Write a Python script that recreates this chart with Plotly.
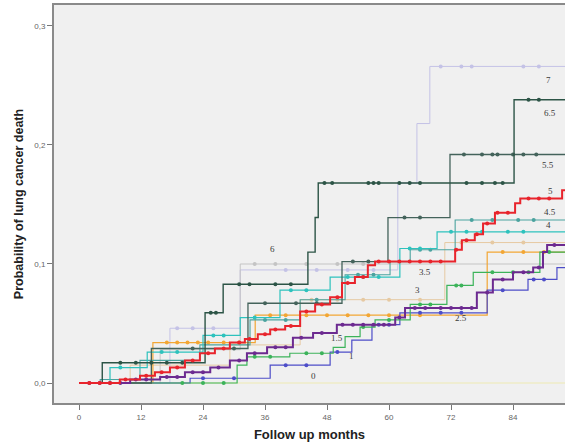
import numpy as np
import plotly.graph_objects as go

END = 95.0

# ---- step curves: event months and cumulative probability after each step ----
s0_t = [0]
s0_p = [0.0]

tan_t = [0, 9.9, 29.2, 42.8, 70.8]
tan_p = [0, 0.015, 0.032, 0.070, 0.118]

lav_t = [0, 17.6, 31.2, 61.7, 65.4, 67.9]
lav_p = [0, 0.046, 0.095, 0.168, 0.218, 0.266]

gray_t = [0, 15.7, 31.2]
gray_p = [0, 0.028, 0.100]

orange_t = [0, 14.3, 34.1, 79.0]
orange_p = [0, 0.034, 0.057, 0.110]

teal_t = [0, 4.1, 11.8, 23.4, 33.1, 42.8, 51.5, 60.2, 64.1, 72.8]
teal_p = [0, 0.003, 0.019, 0.032, 0.053, 0.070, 0.091, 0.102, 0.112, 0.137]

cyan_t = [0, 6.0, 13.2, 24.0, 31.2, 38.9, 48.6, 62.1, 69.3]
cyan_p = [0, 0.013, 0.026, 0.040, 0.055, 0.078, 0.089, 0.113, 0.127]

blue_t = [0, 21.5, 37.0, 48.6, 52.8, 56.7, 62.1, 79.0, 86.9, 92.5]
blue_p = [0, 0.004, 0.015, 0.026, 0.036, 0.049, 0.059, 0.078, 0.087, 0.097]

green_t = [0, 30.6, 32.5, 40.8, 49.2, 51.5, 54.4, 57.3, 64.1, 71.2, 76.3, 89.2]
green_p = [0, 0.015, 0.022, 0.025, 0.030, 0.039, 0.047, 0.053, 0.066, 0.082, 0.093, 0.110]

dk55_t = [0, 14.0, 32.7, 50.9, 59.8, 71.8]
dk55_p = [0, 0.029, 0.067, 0.102, 0.139, 0.192]

dk65_t = [0, 4.5, 24.4, 27.9, 44.3, 45.7, 46.3, 84.2]
dk65_p = [0, 0.017, 0.059, 0.083, 0.110, 0.139, 0.168, 0.238]

purple_t = [0, 9.9, 15.7, 20.5, 25.4, 29.2, 32.5, 36.4, 41.4, 45.3, 49.9, 61.2,
            63.1, 77.0, 80.1, 84.0, 87.9, 89.8, 90.6]
purple_p = [0, 0.003, 0.005, 0.009, 0.013, 0.019, 0.025, 0.030, 0.038, 0.042,
            0.049, 0.055, 0.063, 0.076, 0.087, 0.093, 0.097, 0.110, 0.116]

red_t = [0, 7.9, 11.8, 14.7, 17.6, 20.5, 23.4, 26.3, 29.2, 32.1, 34.6, 37.0,
         39.9, 42.8, 45.7, 48.6, 50.9, 53.4, 55.9, 57.3, 72.8, 74.1, 76.6,
         78.2, 80.5, 84.4, 85.4, 93.5]
red_p = [0, 0.003, 0.006, 0.009, 0.013, 0.019, 0.025, 0.029, 0.034, 0.037,
         0.041, 0.045, 0.048, 0.060, 0.066, 0.072, 0.084, 0.089, 0.099, 0.102,
         0.112, 0.120, 0.125, 0.134, 0.143, 0.151, 0.155, 0.162]

# censored observation months (tick marks on the curves)
cens_lav = [19, 22, 26, 40, 46, 52, 57, 70, 74, 76, 86, 89]
cens_gray = [34, 38, 44, 50, 55]
cens_tan = [45, 50, 55, 60, 66, 74, 80, 86]
cens_orange = [17, 19, 21, 23, 25, 28, 31, 37, 40, 44, 48, 52, 56, 60, 66, 82, 86, 90]
cens_teal = [36, 40, 46, 54, 57, 66, 68, 76, 80, 85, 88]
cens_cyan = [8, 16, 19, 26, 28, 34, 41, 44, 52, 55, 58, 64, 66, 72, 75, 78, 83, 86]
cens_blue = [24, 30, 40, 44, 50, 58, 60, 66, 70, 74, 82, 88, 90]
cens_green = [20, 24, 28, 34, 37, 44, 47, 55, 60, 66, 68, 73, 74, 80, 84, 87, 91]
cens_dk55 = [22, 30, 36, 42, 46, 53, 56, 63, 66, 74.5, 78, 80, 81, 84, 86, 88.5]
cens_dk65 = [8, 11, 14, 17, 20, 25.5, 26.5, 31, 33, 38, 41, 47.5, 49, 56, 57,
             58, 62, 64, 66, 75, 78, 80.5, 82, 87, 89]
cens_purple = [2, 4, 6, 8, 11, 13, 17, 19, 22, 24, 27, 31, 34, 38, 40, 43, 47,
               51, 53, 55, 57, 59, 62, 65, 67, 70, 72, 74, 76, 79, 82, 86, 89, 92]
cens_red = [2, 4, 6, 9, 13, 16, 19, 22, 25, 28, 31, 33, 36, 38, 41, 44, 47, 50,
            52, 55, 58, 60, 62, 64, 66, 68, 70, 73, 75, 77, 79, 81, 83, 87, 89, 91]

series = [
    ("0", s0_t, s0_p, [], "#eeeab2", 1.2),
    ("3", tan_t, tan_p, cens_tan, "#e6c9a2", 1.0),
    ("7", lav_t, lav_p, cens_lav, "#c4c2e6", 1.0),
    ("6", gray_t, gray_p, cens_gray, "#c4c4c4", 1.0),
    ("2.5", orange_t, orange_p, cens_orange, "#f2a634", 1.2),
    ("4.5", teal_t, teal_p, cens_teal, "#4ba39f", 1.1),
    ("4", cyan_t, cyan_p, cens_cyan, "#2ec2bd", 1.2),
    ("2", blue_t, blue_p, cens_blue, "#4d4dc8", 1.2),
    ("1", green_t, green_p, cens_green, "#3cb35a", 1.2),
    ("5.5", dk55_t, dk55_p, cens_dk55, "#44635b", 1.3),
    ("6.5", dk65_t, dk65_p, cens_dk65, "#2c5446", 1.4),
    ("1.5", purple_t, purple_p, cens_purple, "#6c2a90", 2.0),
    ("5", red_t, red_p, cens_red, "#e8242c", 2.0),
]

# curve labels placed on the chart: (text, month, probability)
lab_text = ["7", "6.5", "5.5", "5", "4.5", "4", "6", "3.5", "3", "2.5", "1.5", "1", "0"]
lab_x = [90.8, 91.2, 90.8, 91.2, 91.2, 90.8, 37.5, 67.0, 65.6, 73.9, 49.9, 52.8, 45.3]
lab_y = [0.255, 0.227, 0.183, 0.161, 0.144, 0.133, 0.113, 0.093, 0.078, 0.055, 0.038, 0.023, 0.006]

x_ticks = [0, 12, 24, 36, 48, 60, 72, 84]
y_ticks = [0.0, 0.1, 0.2, 0.3]
y_tick_text = ["0,0", "0,1", "0,2", "0,3"]

fig = go.Figure()
for name, t, p, cens, col, w in series:
    xs = list(t) + [END]
    ys = list(p) + [p[-1]]
    fig.add_trace(go.Scatter(x=xs, y=ys, mode="lines", line=dict(color=col, width=w, shape="hv"),
                             name=name, showlegend=False, hoverinfo="skip"))
    if cens:
        ta = np.array(t)
        pa = np.array(p)
        cy = [float(pa[np.searchsorted(ta, c, side="right") - 1]) for c in cens]
        fig.add_trace(go.Scatter(x=cens, y=cy, mode="markers",
                                 marker=dict(color=col, size=4, symbol="circle"),
                                 showlegend=False, hoverinfo="skip"))

for txt, lx, ly in zip(lab_text, lab_x, lab_y):
    fig.add_annotation(x=lx, y=ly, text=txt, showarrow=False,
                       font=dict(family="Liberation Serif", size=9, color="#3a3a3a"))

fig.update_layout(
    width=565, height=448,
    margin=dict(l=54, r=0, t=5, b=45),
    paper_bgcolor="white",
    plot_bgcolor="#f0f0f0",
    showlegend=False,
    xaxis=dict(range=[-4.84, 94.06], tickvals=x_ticks, ticks="outside", ticklen=5,
               tickcolor="#777777", showgrid=False, zeroline=False,
               showline=True, linecolor="#8a8a8a", linewidth=2, mirror=True,
               tickfont=dict(family="Liberation Sans", size=8, color="#666666"),
               title=dict(text="<b>Follow up months</b>", standoff=9,
                          font=dict(family="Liberation Sans", size=13, color="#222222"))),
    yaxis=dict(range=[-0.0168, 0.3176], tickvals=y_ticks, ticktext=y_tick_text,
               ticks="outside", ticklen=5, tickcolor="#777777", showgrid=False,
               zeroline=False, showline=True, linecolor="#8a8a8a", linewidth=2,
               tickfont=dict(family="Liberation Sans", size=8, color="#666666"),
               title=dict(text="<b>Probability of lung cancer death</b>", standoff=8,
                          font=dict(family="Liberation Sans", size=12.5, color="#222222"))),
)

fig.write_html("out.html", config={"displayModeBar": False},
               post_script="document.body.style.margin='0';document.body.style.overflow='hidden';")
